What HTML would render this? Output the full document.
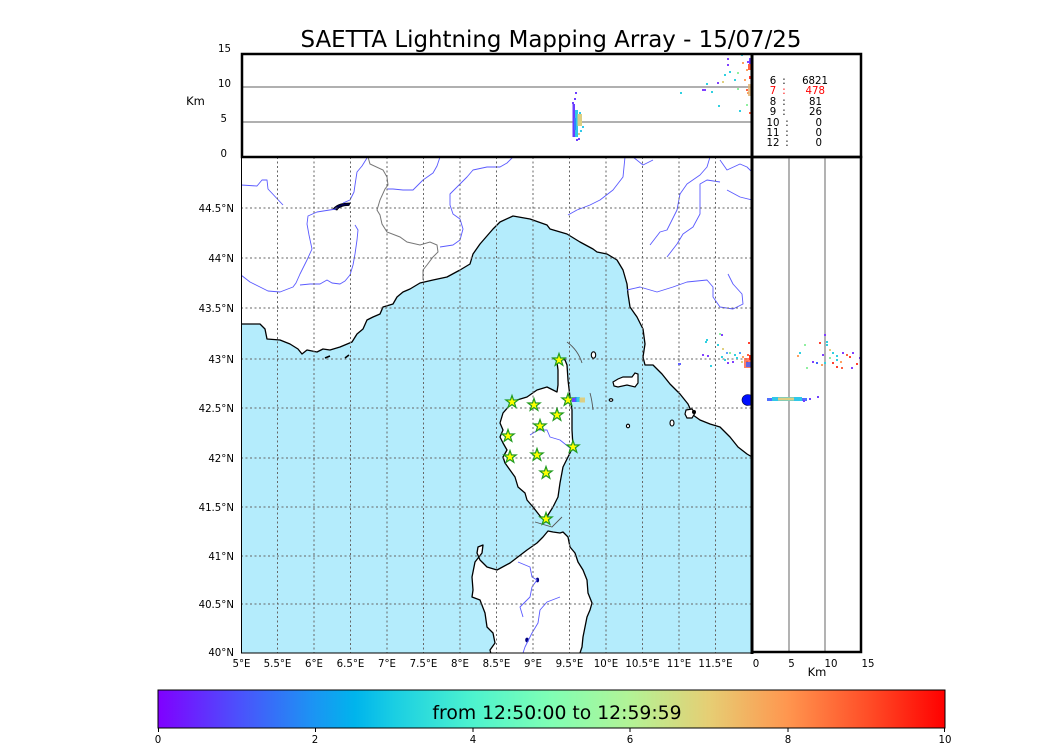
<!DOCTYPE html>
<html><head><meta charset="utf-8"><style>
html,body{margin:0;padding:0;background:#fff;}
svg{display:block;}
text{font-family:"DejaVu Sans","Liberation Sans",sans-serif;}
</style></head><body>
<svg width="1050" height="750" viewBox="0 0 1050 750" xmlns="http://www.w3.org/2000/svg">
<defs>
<clipPath id="cm"><rect x="241" y="157" width="511" height="496"/></clipPath>
<clipPath id="ct"><rect x="241" y="54" width="511" height="103"/></clipPath>
<clipPath id="cr"><rect x="752" y="157" width="110" height="496"/></clipPath>
<path id="st" d="M0,-6.5 L1.53,-2.1 L6.18,-2.01 L2.47,0.8 L3.82,5.26 L0,2.6 L-3.82,5.26 L-2.47,0.8 L-6.18,-2.01 L-1.53,-2.1 Z" fill="#ffff00" stroke="#1f9a1f" stroke-width="1.2"/>
<linearGradient id="cb" x1="0" y1="0" x2="1" y2="0">
<stop offset="0" stop-color="rgb(128,0,255)"/>
<stop offset="0.1" stop-color="rgb(77,79,252)"/>
<stop offset="0.2" stop-color="rgb(26,150,243)"/>
<stop offset="0.25" stop-color="rgb(0,180,236)"/>
<stop offset="0.3" stop-color="rgb(26,206,227)"/>
<stop offset="0.4" stop-color="rgb(77,243,206)"/>
<stop offset="0.5" stop-color="rgb(128,255,180)"/>
<stop offset="0.6" stop-color="rgb(179,243,150)"/>
<stop offset="0.7" stop-color="rgb(230,206,116)"/>
<stop offset="0.8" stop-color="rgb(255,150,79)"/>
<stop offset="0.9" stop-color="rgb(255,79,40)"/>
<stop offset="1" stop-color="rgb(255,0,0)"/>
</linearGradient>
</defs>
<rect width="1050" height="750" fill="#fff"/>

<text x="551" y="47" font-size="22.9" text-anchor="middle" fill="#000">SAETTA Lightning Mapping Array - 15/07/25</text>

<!-- MAP -->
<g clip-path="url(#cm)">
<rect x="241" y="157" width="511" height="496" fill="#b4ecfc"/>
<polygon fill="#fff" stroke="#000" stroke-width="1.3" stroke-linejoin="round" points="235,324 241,324 260,324 265,329 267,339 280,340 290,344 298,349 302,354 307,350 317,352 323,349 330,350 340,347 352,342 357,334 363,329 367,320 373,317 380,314 383,307 393,304 397,297 403,292 410,289 420,283 433,280 447,277 460,270 470,264 473,254 480,244 493,229 500,222 513,216 530,219 547,225 550,229 567,234 580,242 593,249 597,252 607,254 617,260 623,270 627,284 628,294 630,307 637,317 643,329 645,344 643,357 645,365 653,365 662,374 670,384 680,394 688,404 693,415 700,420 710,424 720,427 730,437 738,447 747,454 752,457 760,458 760,150 235,150"/>
<polygon fill="#fff" stroke="#000" stroke-width="1.3" stroke-linejoin="round" points="559,358 565,360 567,365 568,380 570,397 572,410 572,430 573,447 568,457 563,467 560,483 558,497 553,507 548,515 546,522 540,516 533,507 527,500 525,493 518,487 515,477 510,470 505,463 503,457 507,450 503,443 500,437 503,430 500,423 503,413 510,405 517,400 527,397 537,390 547,387 557,392 558,385 558,370 557,362"/>
<polygon fill="#fff" stroke="#000" stroke-width="1.3" stroke-linejoin="round" points="548,531 543,537 537,543 527,550 510,563 497,570 487,567 480,560 477,553 478,547 483,545 482,553 475,562 472,577 473,590 472,597 480,600 485,613 487,627 493,633 495,643 490,650 492,658 582,658 580,653 582,647 583,637 585,627 587,617 590,610 592,603 588,593 587,580 583,570 578,562 575,553 570,547 568,537 563,532 560,533 553,532"/>
<polygon fill="#fff" stroke="#000" stroke-width="1.2" points="613,382 618,379 623,377 632,377 635,373 638,374 638,383 635,387 627,385 618,387 614,386"/>
<ellipse cx="593.5" cy="355" rx="2.2" ry="3.2" fill="#fff" stroke="#000" stroke-width="1.1"/>
<ellipse cx="611" cy="400" rx="1.8" ry="1.3" fill="#fff" stroke="#000" stroke-width="1.1"/>
<ellipse cx="628" cy="426" rx="1.6" ry="1.8" fill="#fff" stroke="#000" stroke-width="1.1"/>
<ellipse cx="672" cy="423" rx="2" ry="3" fill="#fff" stroke="#000" stroke-width="1.1"/>
<polygon fill="#fff" stroke="#000" stroke-width="1.2" points="686,410 692,409 695,413 692,418 687,418 685,414"/>
<circle cx="694" cy="412" r="2" fill="#000"/>
<path d="M325,358 L330,356 M345,358 L349,355" stroke="#000" stroke-width="1.6"/>
<path d="M333,209 C337,204 343,203 350,203 L349,205.5 C343,205.5 339,207 337,210 Z" fill="#000050" stroke="#000" stroke-width="0.8"/>
<ellipse cx="537.5" cy="580" rx="1.6" ry="2.4" fill="#000080"/>
<ellipse cx="527" cy="640" rx="1.8" ry="2.4" fill="#000080"/>
<g fill="none" stroke="#5a5aff" stroke-width="0.9" stroke-linejoin="round">
<polyline points="241,185 257,186 262,180 267,180 268,189 283,205"/>
<polyline points="367,158 362,166 357,172 355,185 354,192 350,200 343,203"/>
<polyline points="336,209 317,212 308,216 307,224 309,235 312,249 307,260 300,274 296,283 293,287 280,292 268,291 260,287 250,282 241,275"/>
<polyline points="300,285 310,284 320,284 327,280 332,283 340,284 345,281 350,275 353,265 355,254 357,240 358,230 355,225"/>
<polyline points="387,189 393,189 403,190 413,190 423,180 433,173 437,166 440,157"/>
<polyline points="440,247 453,245 460,240 463,229 460,219 453,214 450,205 450,194 457,187 467,177 473,170 487,167 500,167 507,163 513,157"/>
<polyline points="568,215 577,210 590,205 600,200 613,190 623,177 625,157"/>
<polyline points="633,157 643,165 653,160"/>
<polyline points="650,245 660,232 667,230 677,210 680,194 687,184 700,175 707,167 710,157"/>
<polyline points="667,257 677,244 683,234 693,227 700,214 700,200 700,184 707,180 720,182"/>
<polyline points="720,160 727,170 740,164 747,167 752,172"/>
<polyline points="627,290 640,287 657,292 673,287 687,282 707,280 713,287 713,297 720,307 733,309 743,304 742,294 733,284 728,274"/>
<polyline points="727,190 740,197 752,200"/>
<polyline points="530,435 538,430 547,430 550,437 560,440 570,448"/>
<polyline points="518,562 530,567 532,577 537,580 532,587 530,597 520,607 523,617"/>
<polyline points="560,597 547,602 540,610 538,623 532,633 525,647 523,653"/>
</g>
<polyline fill="none" stroke="#777" stroke-width="1" points="368,157 370,164 383,170 387,177 388,185 385,189 380,200 377,210 380,215 382,224 387,232 400,237 407,242 420,245 430,242 437,245 438,252 433,257 427,265 423,270 423,280"/>
<path d="M567,342 Q578,350 582,363 M590,393 Q592,400 593,410 M535,522 L552,527 L562,517" fill="none" stroke="#555" stroke-width="0.9"/>
<g stroke="#666" stroke-width="1" stroke-dasharray="2,2.5" fill="none">
<path d="M277.5,157V653M314,157V653M350.5,157V653M387,157V653M423.5,157V653M460,157V653M496.5,157V653M533,157V653M569.5,157V653M606,157V653M642.5,157V653M679,157V653M715.5,157V653"/>
<path d="M241,208H752M241,258H752M241,308H752M241,359H752M241,408H752M241,458H752M241,507H752M241,556H752M241,604H752"/>
</g>
<use href="#st" x="559" y="360"/>
<use href="#st" x="512" y="402"/>
<use href="#st" x="534" y="405"/>
<use href="#st" x="568" y="400"/>
<use href="#st" x="557" y="415"/>
<use href="#st" x="540" y="426"/>
<use href="#st" x="508" y="436"/>
<use href="#st" x="573" y="447"/>
<use href="#st" x="510" y="457"/>
<use href="#st" x="537" y="455"/>
<use href="#st" x="546" y="473"/>
<use href="#st" x="546" y="519"/>
<rect x="572" y="398" width="3" height="4" fill="#7040ff"/>
<rect x="575" y="397" width="2" height="5" fill="#3070ff"/>
<rect x="576.5" y="397" width="3.5" height="5" fill="#30c8e8"/>
<rect x="579.5" y="397.5" width="5.5" height="5" fill="#dccf82"/>
<ellipse cx="748" cy="400" rx="6" ry="5.5" fill="#0010ff" stroke="#000040" stroke-width="0.6"/>
<g>
<rect x="721" y="334" width="2" height="2" fill="#8040ff"/>
<rect x="705" y="341" width="2" height="2" fill="#30d0e0"/>
<rect x="717" y="344" width="2" height="2" fill="#30d0e0"/>
<rect x="722" y="348" width="2" height="2" fill="#e0d080"/>
<rect x="726" y="352" width="2" height="2" fill="#60a0ff"/>
<rect x="702" y="354" width="2" height="2" fill="#8040ff"/>
<rect x="707" y="355" width="2" height="2" fill="#8040ff"/>
<rect x="710" y="365" width="2" height="2" fill="#30d0e0"/>
<rect x="721" y="356" width="2" height="2" fill="#30d0e0"/>
<rect x="724" y="359" width="2" height="2" fill="#30d0e0"/>
<rect x="729" y="352" width="2" height="2" fill="#90f0a0"/>
<rect x="734" y="354" width="2" height="2" fill="#30d0e0"/>
<rect x="739" y="352" width="2" height="2" fill="#50a0ff"/>
<rect x="742" y="356" width="2" height="2" fill="#ffa060"/>
<rect x="747" y="354" width="2" height="2" fill="#ff6040"/>
<rect x="746" y="361" width="2" height="2" fill="#ff4030"/>
<rect x="741" y="361" width="2" height="2" fill="#e0d080"/>
<rect x="748" y="342" width="2" height="2" fill="#ff4030"/>
<rect x="727" y="362" width="2" height="2" fill="#8040ff"/>
<rect x="732" y="361" width="2" height="2" fill="#8040ff"/>
<rect x="736" y="357" width="2" height="2" fill="#30d0e0"/>
<rect x="678" y="363" width="3" height="2" fill="#6060ff"/>
<rect x="706" y="339" width="2" height="2" fill="#30d0e0"/>
<rect x="719" y="333" width="2" height="2" fill="#90f0a0"/>
<rect x="744" y="358" width="8" height="10" fill="#ff6040" opacity="0.8"/>
<rect x="746" y="362" width="6" height="5" fill="#4060ff" opacity="0.8"/>
<rect x="749" y="355" width="3" height="5" fill="#ff3020"/>
</g>
</g>
<rect x="241.5" y="157" width="510.5" height="496" fill="none" stroke="#000" stroke-width="1"/>

<!-- TOP PANEL -->
<line x1="241" y1="87" x2="752" y2="87" stroke="#808080" stroke-width="1.2"/>
<line x1="241" y1="122" x2="752" y2="122" stroke="#808080" stroke-width="1.2"/>
<g clip-path="url(#ct)">
<rect x="572.5" y="104" width="2.5" height="33" fill="#6a3cff"/>
<rect x="575" y="110" width="3" height="27" fill="#30c8e8"/>
<rect x="574" y="118" width="2" height="12" fill="#3080ff"/>
<rect x="577.5" y="114" width="4.5" height="12" fill="#dccf82"/>
<rect x="575" y="92" width="2" height="2" fill="#7040ff"/>
<rect x="574" y="98" width="2" height="2" fill="#7040ff"/>
<rect x="572" y="102" width="2" height="2" fill="#7040ff"/>
<rect x="579" y="112" width="2" height="2" fill="#30c8e8"/>
<rect x="582" y="126" width="2" height="2" fill="#30c8e8"/>
<rect x="578" y="138" width="2" height="2" fill="#7040ff"/>
<rect x="576" y="139" width="2" height="2" fill="#7040ff"/>
<rect x="580" y="130" width="2" height="2" fill="#30c8e8"/>
<rect x="578" y="133" width="2" height="2" fill="#dccf82"/>
<rect x="727" y="58" width="2" height="2" fill="#8040ff"/>
<rect x="727" y="64" width="2" height="2" fill="#8040ff"/>
<rect x="741" y="54" width="2" height="2" fill="#30d0e0"/>
<rect x="742" y="62" width="2" height="2" fill="#ffa060"/>
<rect x="747" y="61" width="2" height="2" fill="#8040ff"/>
<rect x="746" y="69" width="2" height="2" fill="#ffa060"/>
<rect x="749" y="58" width="3" height="8" fill="#7040ff"/>
<rect x="748" y="64" width="4" height="6" fill="#ff6040"/>
<rect x="724" y="74" width="2" height="2" fill="#30d0e0"/>
<rect x="729" y="71" width="2" height="2" fill="#30d0e0"/>
<rect x="722" y="81" width="2" height="2" fill="#e0d080"/>
<rect x="737" y="72" width="2" height="2" fill="#90f0a0"/>
<rect x="734" y="79" width="2" height="2" fill="#30d0e0"/>
<rect x="706" y="83" width="2" height="2" fill="#30d0e0"/>
<rect x="704" y="89" width="2" height="2" fill="#8040ff"/>
<rect x="711" y="91" width="2" height="2" fill="#30d0e0"/>
<rect x="717" y="82" width="2" height="2" fill="#8040ff"/>
<rect x="744" y="79" width="2" height="2" fill="#ffa060"/>
<rect x="746" y="89" width="2" height="2" fill="#ff6040"/>
<rect x="749" y="76" width="3" height="3" fill="#ff4030"/>
<rect x="747" y="92" width="2" height="2" fill="#ffa060"/>
<rect x="748" y="84" width="4" height="12" fill="#e0b070" opacity="0.8"/>
<rect x="718" y="105" width="2" height="2" fill="#30d0e0"/>
<rect x="739" y="110" width="2" height="2" fill="#30d0e0"/>
<rect x="746" y="104" width="2" height="2" fill="#90f0a0"/>
<rect x="749" y="112" width="2" height="2" fill="#ff6040"/>
<rect x="680" y="92" width="2" height="2" fill="#30d0e0"/>
<rect x="702" y="89" width="2" height="2" fill="#8040ff"/>
<rect x="737" y="88" width="2" height="2" fill="#90f0a0"/>
</g>
<rect x="242" y="54" width="619" height="103" fill="none" stroke="#000" stroke-width="2.5"/>
<line x1="752" y1="54" x2="752" y2="157" stroke="#000" stroke-width="3"/>

<g font-size="10.2" fill="#000">
<text x="773" y="84" text-anchor="middle">6</text><text x="784" y="84" text-anchor="middle">:</text><text x="828" y="84" text-anchor="end">6821</text>
<text x="773" y="94" text-anchor="middle" fill="#ff0000">7</text><text x="784" y="94" text-anchor="middle" fill="#ff0000">:</text><text x="825" y="94" text-anchor="end" fill="#ff0000">478</text>
<text x="773" y="105" text-anchor="middle">8</text><text x="784" y="105" text-anchor="middle">:</text><text x="822" y="105" text-anchor="end">81</text>
<text x="773" y="115" text-anchor="middle">9</text><text x="784" y="115" text-anchor="middle">:</text><text x="822" y="115" text-anchor="end">26</text>
<text x="773" y="126" text-anchor="middle">10</text><text x="787" y="126" text-anchor="middle">:</text><text x="822" y="126" text-anchor="end">0</text>
<text x="773" y="136" text-anchor="middle">11</text><text x="787" y="136" text-anchor="middle">:</text><text x="822" y="136" text-anchor="end">0</text>
<text x="773" y="146" text-anchor="middle">12</text><text x="787" y="146" text-anchor="middle">:</text><text x="822" y="146" text-anchor="end">0</text>
</g>

<!-- RIGHT PANEL -->
<line x1="789" y1="157" x2="789" y2="653" stroke="#808080" stroke-width="1.2"/>
<line x1="825" y1="157" x2="825" y2="653" stroke="#808080" stroke-width="1.2"/>
<g clip-path="url(#cr)">
<rect x="767" y="398" width="40" height="3" fill="#5070ff"/>
<rect x="772" y="397" width="30" height="4" fill="#30c8e8"/>
<rect x="778" y="397.5" width="16" height="3" fill="#dccf82"/>
<rect x="809" y="398" width="2" height="2" fill="#7040ff"/>
<rect x="817" y="396" width="2" height="2" fill="#7040ff"/>
<rect x="803" y="400" width="2" height="2" fill="#7040ff"/>
<rect x="824" y="334" width="2" height="2" fill="#8040ff"/>
<rect x="819" y="342" width="2" height="2" fill="#ff4030"/>
<rect x="826" y="341" width="2" height="2" fill="#30d0e0"/>
<rect x="804" y="344" width="2" height="2" fill="#90f0a0"/>
<rect x="799" y="352" width="2" height="2" fill="#30d0e0"/>
<rect x="797" y="355" width="2" height="2" fill="#ffa060"/>
<rect x="826" y="344" width="2" height="2" fill="#30d0e0"/>
<rect x="829" y="349" width="2" height="2" fill="#e0d080"/>
<rect x="832" y="352" width="2" height="2" fill="#30d0e0"/>
<rect x="822" y="354" width="2" height="2" fill="#8040ff"/>
<rect x="836" y="355" width="2" height="2" fill="#30d0e0"/>
<rect x="842" y="352" width="2" height="2" fill="#8040ff"/>
<rect x="846" y="354" width="2" height="2" fill="#ff6040"/>
<rect x="852" y="352" width="2" height="2" fill="#8040ff"/>
<rect x="849" y="356" width="2" height="2" fill="#ff4030"/>
<rect x="829" y="357" width="2" height="2" fill="#90f0a0"/>
<rect x="836" y="359" width="2" height="2" fill="#30d0e0"/>
<rect x="824" y="362" width="2" height="2" fill="#30d0e0"/>
<rect x="816" y="362" width="2" height="2" fill="#4060ff"/>
<rect x="821" y="364" width="2" height="2" fill="#ffa060"/>
<rect x="836" y="366" width="2" height="2" fill="#ff4030"/>
<rect x="841" y="367" width="2" height="2" fill="#ff6040"/>
<rect x="851" y="367" width="2" height="2" fill="#8040ff"/>
<rect x="856" y="363" width="2" height="2" fill="#ff4030"/>
<rect x="859" y="357" width="2" height="2" fill="#8040ff"/>
<rect x="806" y="367" width="2" height="2" fill="#90f0a0"/>
<rect x="832" y="362" width="2" height="2" fill="#ff4030"/>
<rect x="840" y="361" width="2" height="2" fill="#ffa060"/>
<rect x="812" y="361" width="2" height="2" fill="#8040ff"/>
</g>
<rect x="752" y="157" width="109" height="495" fill="none" stroke="#000" stroke-width="2.5"/>
<line x1="752" y1="155" x2="752" y2="654" stroke="#000" stroke-width="3"/>

<g font-size="10.2" fill="#000">
<g text-anchor="end">
<text x="234" y="212">44.5°N</text>
<text x="234" y="262">44°N</text>
<text x="234" y="312">43.5°N</text>
<text x="234" y="363">43°N</text>
<text x="234" y="412">42.5°N</text>
<text x="234" y="462">42°N</text>
<text x="234" y="511">41.5°N</text>
<text x="234" y="560">41°N</text>
<text x="234" y="608">40.5°N</text>
<text x="234" y="656">40°N</text>
<text x="231" y="52">15</text>
<text x="231" y="87">10</text>
<text x="227" y="122">5</text>
<text x="227" y="157">0</text>
</g>
<text x="195.5" y="105" text-anchor="middle" font-size="11.5">Km</text>
<g text-anchor="middle">
<text x="241.5" y="667">5°E</text>
<text x="277.5" y="667">5.5°E</text>
<text x="314" y="667">6°E</text>
<text x="350.5" y="667">6.5°E</text>
<text x="387" y="667">7°E</text>
<text x="423.5" y="667">7.5°E</text>
<text x="460" y="667">8°E</text>
<text x="496.5" y="667">8.5°E</text>
<text x="533" y="667">9°E</text>
<text x="569.5" y="667">9.5°E</text>
<text x="606" y="667">10°E</text>
<text x="642.5" y="667">10.5°E</text>
<text x="679" y="667">11°E</text>
<text x="715.5" y="667">11.5°E</text>
<text x="756" y="667">0</text>
<text x="791.5" y="667">5</text>
<text x="831" y="667">10</text>
<text x="868" y="667">15</text>
<text x="817" y="676" font-size="11.5">Km</text>
</g>
</g>

<!-- COLORBAR -->
<rect x="158" y="690" width="787" height="38" fill="url(#cb)" stroke="#000" stroke-width="1"/>
<text x="557" y="719" font-size="18.8" text-anchor="middle" fill="#000">from 12:50:00 to 12:59:59</text>
<g stroke="#000" stroke-width="1">
<path d="M158.5,728V732M315.5,728V732M473,728V732M630,728V732M788,728V732M944.5,728V732"/>
</g>
<g font-size="10.2" text-anchor="middle" fill="#000">
<text x="158" y="743">0</text>
<text x="315" y="743">2</text>
<text x="473" y="743">4</text>
<text x="630" y="743">6</text>
<text x="788" y="743">8</text>
<text x="945" y="743">10</text>
</g>
</svg>
</body></html>
